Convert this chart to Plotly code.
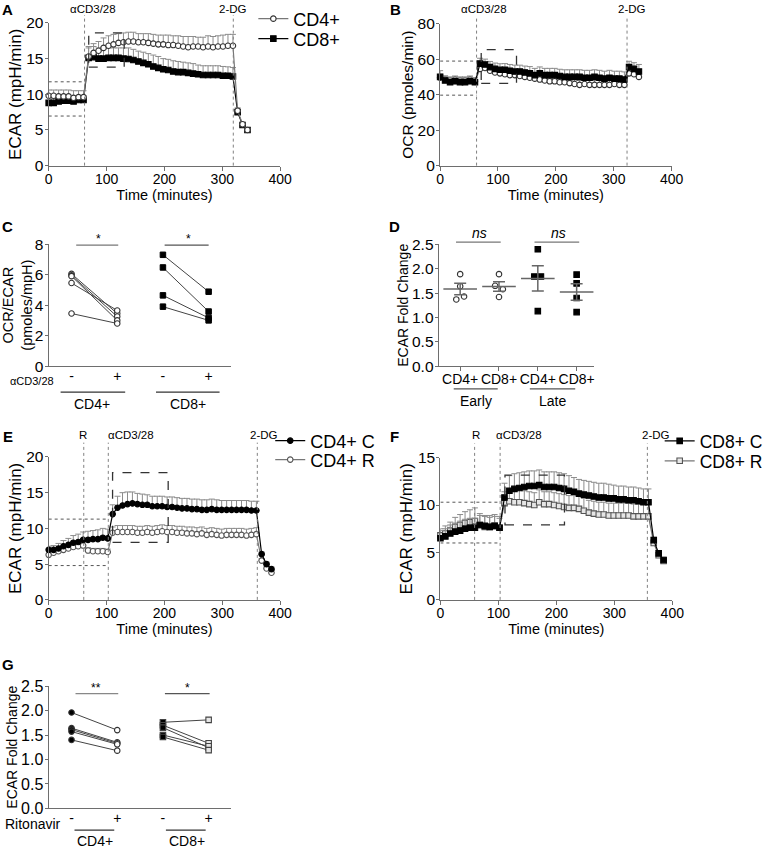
import plotly.graph_objects as go
import numpy as np

W, H = 768, 849
FONT = "Arial, Liberation Sans, Helvetica, sans-serif"
AX = "#6e6e6e"

# ======================= DATA =======================
time_AB = [0, 8.6, 17.2, 25.8, 34.4, 43.0, 51.6, 60.2,
           69.0, 77.6, 86.2, 94.8, 103.4, 112.0, 120.6, 129.2, 137.8, 146.4,
           155.0, 163.6, 172.2, 180.8, 189.4, 198.0, 206.6, 215.2, 223.8, 232.4,
           241.0, 249.6, 258.2, 266.8, 275.4, 284.0, 292.6, 301.2, 309.8, 318.4,
           326.5, 335.0, 343.5]

A_cd4 = [9.8, 9.8, 9.7, 9.7, 9.7, 9.5, 9.6, 9.6,
         15.3, 15.8, 16.1, 16.5, 16.8, 17.0, 17.2, 17.3, 17.4, 17.4,
         17.3, 17.3, 17.2, 17.1, 17.0, 17.0, 16.9, 16.9, 16.8, 16.7,
         16.6, 16.7, 16.7, 16.6, 16.7, 16.6, 16.7, 16.7, 16.8, 16.8,
         7.7, 5.8, 5.0]
A_cd4_err = [0.8, 0.8, 0.9, 0.9, 0.9, 1.0, 0.9, 0.9,
             1.2, 1.3, 1.3, 1.4, 1.4, 1.4, 1.3, 1.3, 1.3, 1.3,
             1.2, 1.2, 1.3, 1.3, 1.3, 1.3, 1.4, 1.3, 1.4, 1.4,
             1.5, 1.4, 1.3, 1.4, 1.5, 1.5, 1.5, 1.6, 1.6, 1.6,
             0.4, 0.2, 0.2]
A_cd8 = [8.8, 8.8, 9.0, 9.1, 9.1, 9.0, 9.2, 9.2,
         15.1, 15.2, 15.0, 15.0, 15.1, 15.1, 15.1, 15.0, 14.95, 14.8,
         14.6, 14.4, 14.2, 13.9, 13.7, 13.5, 13.4, 13.2, 13.1, 13.1,
         13.0, 12.9, 12.8, 12.7, 12.7, 12.7, 12.7, 12.6, 12.6, 12.5,
         7.5, 5.7, 5.0]
A_cd8_err = [0.6, 0.6, 0.6, 0.6, 0.6, 0.6, 0.6, 0.6,
             1.6, 1.5, 1.5, 1.4, 1.4, 1.4, 1.4, 1.5, 1.55, 1.5,
             1.45, 1.5, 1.5, 1.6, 1.6, 1.5, 1.5, 1.5, 1.5, 1.4,
             1.4, 1.4, 1.3, 1.3, 1.3, 1.3, 1.3, 1.3, 1.25, 1.25,
             0.3, 0.2, 0.2]

B_cd4 = [49.5, 48.5, 48.0, 48.5, 48.0, 48.0, 48.5, 47.5,
         54.5, 55.0, 53.5, 52.5, 52.0, 51.5, 51.0, 51.0, 50.5, 50.0,
         49.5, 49.0, 48.5, 48.0, 47.5, 47.5, 47.0, 47.0, 46.5, 46.0,
         45.5, 46.0, 45.5, 45.5, 45.5, 45.5, 45.5, 46.0, 45.5, 45.5,
         52.0, 51.5, 50.0]
B_cd4_err = [2.0, 2.0, 2.0, 2.0, 2.0, 2.0, 2.0, 2.0,
             2.5, 2.5, 2.5, 2.5, 2.5, 2.5, 2.5, 2.5, 2.5, 2.5,
             2.5, 2.5, 2.5, 2.5, 2.5, 2.5, 2.5, 2.5, 2.5, 2.5,
             2.5, 2.5, 2.5, 2.5, 2.5, 2.5, 2.5, 2.5, 2.5, 2.5,
             2.5, 2.5, 2.5]
B_cd8 = [50.0, 48.0, 47.0, 47.5, 47.0, 47.0, 47.5, 47.0,
         57.5, 57.0, 55.5, 54.5, 54.0, 54.0, 53.5, 53.0, 53.0, 52.5,
         52.0, 51.0, 52.0, 51.0, 51.0, 51.0, 50.5, 50.0, 50.0, 50.0,
         50.0, 49.5, 49.5, 50.0, 49.5, 49.0, 49.5, 49.0, 49.0, 48.5,
         55.5, 54.5, 53.0]
B_cd8_err = [3.5, 2.5, 2.5, 2.5, 2.5, 2.5, 2.5, 2.5,
             3.0, 3.0, 3.2, 3.3, 3.4, 3.5, 3.5, 3.6, 3.6, 3.6,
             3.8, 3.8, 3.6, 3.8, 3.8, 3.8, 3.8, 4.0, 4.0, 4.0,
             4.0, 4.2, 4.2, 4.0, 4.2, 4.2, 4.2, 4.2, 4.2, 4.3,
             3.3, 3.5, 4.0]

C_cd4_minus = [6.05, 5.95, 5.90, 5.45, 3.45]
C_cd4_plus = [3.45, 3.25, 3.00, 3.65, 2.80]
C_cd8_minus = [7.30, 6.47, 4.64, 3.90]
C_cd8_plus = [4.88, 3.58, 3.16, 3.00]
C_ticktext = ["-", "+", "-", "+"]

D_groups = ["CD4+", "CD8+", "CD4+", "CD8+"]
D_cd4_early = [1.89, 1.64, 1.43, 1.37]
D_cd8_early = [1.89, 1.65, 1.58, 1.42]
D_cd4_late = [2.40, 1.84, 1.84, 1.13]
D_cd8_late = [1.88, 1.70, 1.40, 1.11]
D_jitter = [[0, 0, 0.1, -0.1], [0, -0.1, 0.1, 0], [0, -0.09, 0.08, 0], [0, 0, 0, 0]]

time_EF = [0, 8.5, 17.0, 25.5, 34.0, 42.5, 51.0, 59.5, 68.0, 76.5, 85.0, 93.5, 102.0,
           110.5, 119.0, 127.6, 136.2, 144.7, 153.3, 161.9, 170.4, 179.0, 187.6,
           196.1, 204.7, 213.3, 221.8, 230.4, 239.0, 247.5, 256.1, 264.7, 273.2,
           281.8, 290.4, 298.9, 307.5, 316.1, 324.6, 333.2, 341.8, 350.3, 358.9,
           368.0, 376.5, 385.0]

E_C = [7.0, 7.0, 7.2, 7.5, 7.7, 8.0, 8.1, 8.4, 8.4, 8.5, 8.5, 8.7, 8.6,
       12.0, 12.9, 13.2, 13.4, 13.5, 13.4, 13.3, 13.3, 13.1, 13.1,
       13.1, 13.0, 13.0, 12.9, 12.8, 12.8, 12.7, 12.7, 12.6, 12.6,
       12.7, 12.6, 12.6, 12.6, 12.6, 12.6, 12.6, 12.6, 12.5, 12.5,
       6.4, 5.0, 4.3]
E_C_err = [0.5, 0.6, 0.7, 0.8, 0.9, 1.0, 1.1, 1.1, 1.2, 1.2, 1.3, 1.3, 1.3,
           1.3, 1.6, 1.8, 1.7, 1.6, 1.5, 1.5, 1.4, 1.4, 1.4,
           1.4, 1.4, 1.4, 1.4, 1.4, 1.4, 1.4, 1.4, 1.4, 1.4,
           1.4, 1.4, 1.3, 1.3, 1.3, 1.3, 1.3, 1.3, 1.3, 1.3,
           0.3, 0.3, 0.3]
E_R = [6.3, 6.6, 6.8, 7.0, 7.2, 7.4, 7.5, 7.6, 6.9, 6.8, 6.8, 6.8, 6.7,
       9.4, 9.5, 9.5, 9.5, 9.5, 9.4, 9.4, 9.5, 9.4, 9.5,
       9.6, 9.5, 9.5, 9.4, 9.4, 9.3, 9.3, 9.2, 9.3, 9.1,
       9.2, 9.1, 9.0, 9.1, 9.1, 9.1, 9.1, 9.0, 9.1, 9.2,
       5.5, 4.4, 3.8]
E_R_err = [0.4, 0.4, 0.5, 0.5, 0.5, 0.5, 0.5, 0.5, 0.4, 0.4, 0.4, 0.4, 0.4,
           0.8, 0.9, 0.9, 0.9, 0.9, 0.9, 0.9, 0.9, 0.9, 0.9,
           0.9, 0.9, 0.9, 0.9, 0.9, 0.9, 0.9, 0.9, 0.9, 0.9,
           0.9, 0.9, 0.9, 0.9, 0.9, 0.9, 0.9, 0.9, 0.9, 0.9,
           0.3, 0.3, 0.3]

F_C = [6.5, 6.7, 7.0, 7.2, 7.3, 7.5, 7.6, 7.6, 7.9, 7.8, 7.7, 7.8, 7.6,
       10.8, 11.5, 11.7, 11.8, 11.9, 12.0, 12.0, 12.1, 11.9, 11.9,
       11.9, 11.8, 11.7, 11.5, 11.4, 11.2, 11.1, 11.0, 10.9, 10.8,
       10.8, 10.7, 10.7, 10.6, 10.6, 10.5, 10.5, 10.4, 10.3, 10.3,
       6.3, 4.9, 4.2]
F_C_err = [0.8, 0.8, 0.9, 0.9, 1.0, 1.0, 1.0, 1.0, 1.0, 1.0, 1.0, 1.0, 1.0,
           1.5, 1.6, 1.6, 1.6, 1.6, 1.6, 1.6, 1.6, 1.6, 1.6,
           1.6, 1.6, 1.6, 1.6, 1.5, 1.5, 1.5, 1.5, 1.5, 1.5,
           1.5, 1.5, 1.4, 1.4, 1.4, 1.4, 1.4, 1.4, 1.4, 1.4,
           0.3, 0.3, 0.3]
F_R = [6.8, 7.0, 7.3, 7.7, 7.9, 8.1, 8.2, 8.3, 7.9, 7.7, 7.7, 7.8, 7.6,
       10.2, 10.4, 10.3, 10.3, 10.2, 10.1, 10.0, 10.3, 10.1, 10.1,
       10.0, 9.9, 9.8, 9.7, 9.7, 9.6, 9.4, 9.2, 9.1, 9.0,
       9.0, 8.9, 8.9, 8.9, 8.9, 8.9, 8.8, 8.8, 8.8, 8.8,
       6.0, 4.7, 4.1]
F_R_err = [0.7, 0.8, 0.9, 1.0, 1.1, 1.2, 1.3, 1.4, 1.2, 1.2, 1.2, 1.2, 1.2,
           1.2, 1.3, 1.3, 1.3, 1.3, 1.3, 1.3, 1.3, 1.3, 1.3,
           1.3, 1.3, 1.3, 1.3, 1.3, 1.3, 1.3, 1.3, 1.3, 1.3,
           1.3, 1.3, 1.3, 1.3, 1.3, 1.3, 1.3, 1.3, 1.3, 1.3,
           0.4, 0.3, 0.3]

G_cd4_minus = [1.96, 1.64, 1.61, 1.57, 1.40]
G_cd4_plus = [1.60, 1.35, 1.33, 1.31, 1.18]
G_cd8_minus = [1.76, 1.70, 1.65, 1.50, 1.46]
G_cd8_plus = [1.81, 1.33, 1.24, 1.27, 1.19]

# injection times (minutes)
inj_A = [62, 319]
inj_B = [63, 323]
inj_E = [60.6, 103, 360.5]
inj_F = [59, 103, 357]
# baseline window (dotted) levels and highlighted (dashed) windows
win_A = dict(base=[11.75, 6.95], box_t=[69.2, 130.5], box_y=[13.8, 18.6])
win_B = dict(base=[58.9, 39.7], box_t=[71, 132], box_y=[46.3, 65.4])
win_E = dict(base=[11.3, 4.8], box_t=[110.4, 206.5], box_y=[8.05, 17.8])
win_F = dict(base=[10.3, 6.0], box_t=[111.4, 214], box_y=[7.9, 13.15])

# ======================= FIGURE =======================
fig = go.Figure()
shapes, annots = [], []
MS = 5.5


def dom_x(l, r):
    return [l / W, r / W]


def dom_y(t, b):
    return [1 - b / H, 1 - t / H]


def txt(s, x, y, size=14, xanchor="center", yanchor="middle", color="black"):
    annots.append(dict(text=s, x=x / W, y=1 - y / H, xref="paper", yref="paper",
                       showarrow=False, xanchor=xanchor, yanchor=yanchor,
                       font=dict(size=size, family=FONT, color=color)))


def pline(x0, x1, y, color="#555", width=1.2):
    shapes.append(dict(type="line", xref="paper", yref="paper", x0=x0 / W, x1=x1 / W,
                       y0=1 - y / H, y1=1 - y / H, line=dict(color=color, width=width)))


def ts(t, y, err, ax, name, symbol, fill, edge, linecol, legend="legend", show=True):
    n = len(y)
    fig.add_trace(go.Scatter(
        x=t, y=y, name=name, mode="lines+markers",
        xaxis="x" + ax, yaxis="y" + ax,
        line=dict(color=linecol, width=1.2),
        marker=dict(symbol=symbol, size=MS, color=fill, line=dict(color=edge, width=1.1)),
        error_y=dict(type="data", symmetric=False, array=err, arrayminus=[0] * n,
                     color="#8c8c8c", thickness=1, width=3),
        cliponaxis=False, legend=legend, showlegend=show))


def windows(ax, inj, win, top):
    xa = "x" + ax
    ya = "y" + ax
    for t in inj:
        shapes.append(dict(type="line", xref=xa, yref=ya + " domain", x0=t, x1=t, y0=0, y1=top,
                           line=dict(color="#808080", width=1, dash="dot")))
    stim = inj[-2]
    for yv in win["base"]:
        shapes.append(dict(type="line", xref=xa, yref=ya, x0=0, x1=stim,
                           y0=yv, y1=yv, line=dict(color="#555", width=1, dash="dot")))
    shapes.append(dict(type="rect", xref=xa, yref=ya, x0=win["box_t"][0], x1=win["box_t"][1],
                       y0=win["box_y"][0], y1=win["box_y"][1],
                       line=dict(color="#333", width=1.3, dash="dash")))


# ---- Panel A
ts(time_AB, A_cd8, A_cd8_err, "", "CD8+", "square", "black", "black", "black", "legend2")
ts(time_AB, A_cd4, A_cd4_err, "", "CD4+", "circle", "white", "#333", "#777", "legend")
windows("", inj_A, win_A, 1.056)

# ---- Panel B
ts(time_AB, B_cd4, B_cd4_err, "2", "CD4+", "circle", "white", "#333", "#777", show=False)
ts(time_AB, B_cd8, B_cd8_err, "2", "CD8+", "square", "black", "black", "black", show=False)
windows("2", inj_B, win_B, 1.056)

# ---- Panel C
for m, p in zip(C_cd4_minus, C_cd4_plus):
    fig.add_trace(go.Scatter(x=[0, 1], y=[m, p], mode="lines+markers", xaxis="x3", yaxis="y3",
                             line=dict(color="#444", width=1),
                             marker=dict(symbol="circle", size=MS, color="white", line=dict(color="#333", width=1.1)),
                             cliponaxis=False, showlegend=False))
for m, p in zip(C_cd8_minus, C_cd8_plus):
    fig.add_trace(go.Scatter(x=[2, 3], y=[m, p], mode="lines+markers", xaxis="x3", yaxis="y3",
                             line=dict(color="#444", width=1),
                             marker=dict(symbol="square", size=MS, color="black", line=dict(color="black", width=1)),
                             cliponaxis=False, showlegend=False))

# ---- Panel D
D_sets = [D_cd4_early, D_cd8_early, D_cd4_late, D_cd8_late]
D_open = [True, True, False, False]
for i, (vals, jit, op) in enumerate(zip(D_sets, D_jitter, D_open)):
    fig.add_trace(go.Scatter(x=[i + j for j in jit], y=vals, mode="markers", xaxis="x4", yaxis="y4",
                             marker=dict(symbol="circle" if op else "square", size=MS,
                                         color="white" if op else "black",
                                         line=dict(color="#333" if op else "black", width=1.1)),
                             cliponaxis=False, showlegend=False))
    arr = np.array(vals)
    mean = arr.mean()
    sem = arr.std(ddof=1) / np.sqrt(len(arr))
    fig.add_trace(go.Scatter(x=[i], y=[mean], mode="markers", xaxis="x4", yaxis="y4",
                             marker=dict(symbol="line-ew", size=24, line=dict(color="#666", width=1.5)),
                             error_y=dict(type="data", array=[sem], color="#666", thickness=1.5, width=6),
                             cliponaxis=False, showlegend=False))

# ---- Panel E
ts(time_EF, E_R, E_R_err, "5", "CD4+ R", "circle", "white", "#555", "#777", "legend4")
ts(time_EF, E_C, E_C_err, "5", "CD4+ C", "circle", "black", "black", "black", "legend3")
windows("5", inj_E, win_E, 1.1)

# ---- Panel F
ts(time_EF, F_R, F_R_err, "6", "CD8+ R", "square", "#e6e6e6", "#555", "#777", "legend6")
ts(time_EF, F_C, F_C_err, "6", "CD8+ C", "square", "black", "black", "black", "legend5")
windows("6", inj_F, win_F, 1.1)

# ---- Panel G
for m, p in zip(G_cd4_minus, G_cd4_plus):
    fig.add_trace(go.Scatter(x=[0, 1], y=[m, p], mode="lines+markers", xaxis="x7", yaxis="y7",
                             line=dict(color="#444", width=1),
                             marker=dict(symbol="circle", size=MS, color=["black", "white"],
                                         line=dict(color="#333", width=1.1)),
                             cliponaxis=False, showlegend=False))
for m, p in zip(G_cd8_minus, G_cd8_plus):
    fig.add_trace(go.Scatter(x=[2, 3], y=[m, p], mode="lines+markers", xaxis="x7", yaxis="y7",
                             line=dict(color="#444", width=1),
                             marker=dict(symbol="square", size=MS, color=["black", "#e6e6e6"],
                                         line=dict(color="#444", width=1.1)),
                             cliponaxis=False, showlegend=False))


# ======================= AXES =======================
def xax(dom, anchor, rng, tickvals=None, ticktext=None, title=None, ticks="outside", tsize=14, stand=-4):
    d = dict(domain=dom, anchor=anchor, range=rng, showline=True, linecolor=AX, linewidth=1.3,
             ticks=ticks, ticklen=4, tickwidth=1.2, tickcolor=AX, showgrid=False, zeroline=False,
             tickfont=dict(size=tsize, family=FONT, color="black"), tickvals=tickvals, ticktext=ticktext,
             ticklabelstandoff=stand, tickangle=0, fixedrange=True)
    if title:
        d["title"] = dict(text=title, font=dict(size=14.5, family=FONT, color="black"), standoff=0)
    return d


def yax(dom, anchor, rng, tickvals, title, tsize=15.5, titlesize=17, fmt=None):
    d = dict(domain=dom, anchor=anchor, range=rng, showline=True, linecolor=AX, linewidth=1.3,
             ticks="outside", ticklen=3, tickwidth=1.2, tickcolor=AX, showgrid=False, zeroline=False,
             tickfont=dict(size=tsize, family=FONT, color="black"), tickvals=tickvals,
             ticklabelstandoff=-2,
             title=dict(text=title, font=dict(size=titlesize, family=FONT, color="black"), standoff=0),
             fixedrange=True)
    if fmt:
        d["tickformat"] = fmt
    return d


tvals_time = [0, 100, 200, 300, 400]
fold_ticks = [0, 0.5, 1.0, 1.5, 2.0, 2.5]
layout = dict(
    xaxis=xax(dom_x(49, 282), "y", [0, 400], tvals_time, title="Time (minutes)"),
    yaxis=yax(dom_y(21, 164), "x", [0, 20], [0, 5, 10, 15, 20], "ECAR (mpH/min)"),
    xaxis2=xax(dom_x(443, 676), "y2", [0, 400], tvals_time, title="Time (minutes)"),
    yaxis2=yax(dom_y(21.7, 164), "x2", [0, 80], [0, 20, 40, 60, 80], "OCR (pmoles/min)", titlesize=15.5),
    xaxis3=xax(dom_x(49, 233), "y3", [-0.5, 3.5], [0, 1, 2, 3], C_ticktext, ticks="", tsize=14, stand=-3),
    yaxis3=yax(dom_y(242.7, 365), "x3", [0, 8], [0, 2, 4, 6, 8], "OCR/ECAR<br>(pmoles/mpH)",
               tsize=15.5, titlesize=14.5),
    xaxis4=xax(dom_x(441.7, 598), "y4", [-0.55, 3.45], [0, 1, 2, 3], D_groups, tsize=14, stand=-4),
    yaxis4=yax(dom_y(243, 365), "x4", [0, 2.5], fold_ticks, "ECAR Fold Change", tsize=15.5,
               titlesize=14, fmt=".1f"),
    xaxis5=xax(dom_x(49, 282), "y5", [0, 400], tvals_time, title="Time (minutes)"),
    yaxis5=yax(dom_y(456, 599.3), "x5", [0, 20], [0, 5, 10, 15, 20], "ECAR (mpH/min)"),
    xaxis6=xax(dom_x(443.3, 676.7), "y6", [0, 400], tvals_time, title="Time (minutes)"),
    yaxis6=yax(dom_y(456.7, 599.3), "x6", [0, 15], [0, 5, 10, 15], "ECAR (mpH/min)"),
    xaxis7=xax(dom_x(49, 233), "y7", [-0.5, 3.5], [0, 1, 2, 3], C_ticktext, ticks="", tsize=14, stand=-3),
    yaxis7=yax(dom_y(685.7, 808.3), "x7", [0, 2.5], fold_ticks, "ECAR Fold Change", tsize=16,
               titlesize=14, fmt=".1f"),
)

# ======================= TEXT / DECORATIONS =======================
for letter, x, y in [("A", 8, 8), ("B", 398, 8), ("C", 8, 225), ("D", 397, 225),
                     ("E", 8, 436), ("F", 397, 436), ("G", 8, 664)]:
    txt("<b>" + letter + "</b>", x, y, size=15)

txt("αCD3/28", 94, 7, 11.5)
txt("2-DG", 235, 7, 11.5)
txt("αCD3/28", 487, 7, 11.5)
txt("2-DG", 636, 7, 11.5)
txt("R", 84, 434, 11.5)
txt("αCD3/28", 132, 434, 11.5)
txt("2-DG", 266, 434, 11.5)
txt("R", 479, 434, 11.5)
txt("αCD3/28", 522, 434, 11.5)
txt("2-DG", 660, 434, 11.5)

# panel C annotations
txt("*", 99, 238, 12)
txt("*", 190, 238, 12)
pline(76.7, 119, 243.7, "#777", 1.2)
pline(165.7, 210, 243.7, "#555", 1.2)
txt("αCD3/28", 32, 380, 11)
pline(61, 126, 391, "#333", 1.2)
pline(157, 221, 391, "#333", 1.2)
txt("CD4+", 93, 403, 14)
txt("CD8+", 189, 403, 14)

# panel D annotations
txt("<i>ns</i>", 483, 232, 14)
txt("<i>ns</i>", 562, 232, 14)
pline(459, 504, 240.7, "#777", 1.2)
pline(538, 583, 240.7, "#777", 1.2)
pline(456.7, 501, 387.7, "#555", 1.2)
pline(533.3, 579, 387.7, "#555", 1.2)
txt("Early", 479, 400, 14)
txt("Late", 556, 400, 14)

# panel G annotations
txt("**", 97, 688, 12)
txt("*", 189, 688, 12)
pline(76, 119, 693.3, "#888", 1.2)
pline(166, 211, 693.3, "#555", 1.2)
txt("Ritonavir", 33, 824, 14)
pline(75, 115, 830, "#333", 1.2)
pline(167, 207, 830, "#333", 1.2)
txt("CD4+", 96, 841, 14)
txt("CD8+", 188, 841, 14)

legend_common = dict(font=dict(size=18, family=FONT, color="black"), bgcolor="rgba(0,0,0,0)",
                     itemwidth=30, xanchor="left", yanchor="middle",
                     itemclick=False, itemdoubleclick=False)
legend_small = dict(legend_common, font=dict(size=17.5, family=FONT, color="black"))

fig.update_layout(
    width=W, height=H, autosize=False, template="none",
    paper_bgcolor="white", plot_bgcolor="rgba(0,0,0,0)",
    margin=dict(l=0, r=0, t=0, b=0),
    font=dict(family=FONT, size=14, color="black"),
    shapes=shapes, annotations=annots,
    legend=dict(x=255 / W, y=1 - 17 / H, **legend_common),
    legend2=dict(x=255 / W, y=1 - 37 / H, **legend_common),
    legend3=dict(x=272 / W, y=1 - 440 / H, **legend_common),
    legend4=dict(x=272 / W, y=1 - 459 / H, **legend_common),
    legend5=dict(x=664 / W, y=1 - 440 / H, **legend_small),
    legend6=dict(x=664 / W, y=1 - 460 / H, **legend_small),
    hovermode=False,
    **layout,
)

fig.write_html("out.html", config={"displayModeBar": False},
               post_script="document.body.style.margin='0px';")
